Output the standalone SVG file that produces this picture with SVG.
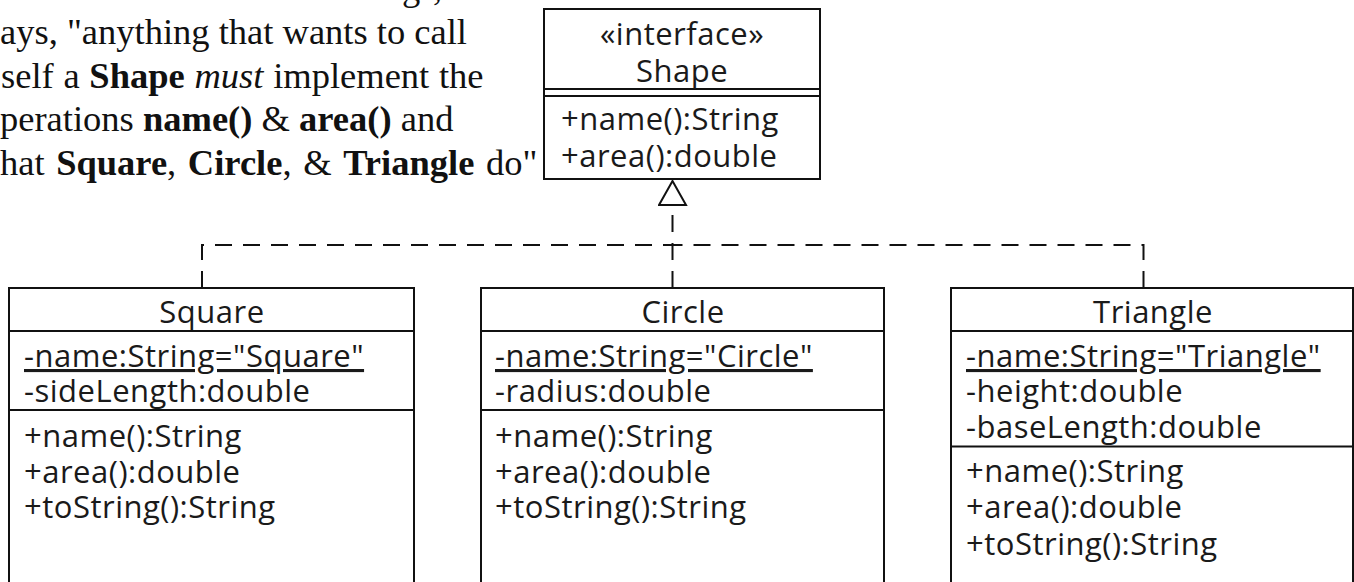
<svg xmlns="http://www.w3.org/2000/svg" width="1354" height="582" viewBox="0 0 1354 582">
<style>
  .box { fill: #ffffff; stroke: #111111; stroke-width: 2; }
  .div { stroke: #111111; stroke-width: 2; }
  .uml { font-family: "Open Sans", "DejaVu Sans", sans-serif; font-size: 31px; letter-spacing: 0.5px; fill: #1a1a1a; }
  .ctr { text-anchor: middle; }
  .ul { text-decoration: underline; }
  .note { font-family: "Liberation Serif", "Times New Roman", serif; font-size: 36.5px; fill: #111111; }
  .b { font-weight: bold; }
  .i { font-style: italic; }
  .dash { fill: none; stroke: #111111; stroke-width: 2; stroke-dasharray: 17 11; }
</style>
<defs>
  <marker id="realize" viewBox="0 0 28 30" refX="26" refY="15" markerWidth="28" markerHeight="30" orient="auto" markerUnits="userSpaceOnUse">
    <path d="M2,1.5 L26,15 L2,28.5 Z" fill="#ffffff" stroke="#111111" stroke-width="2"/>
  </marker>
</defs>
<rect width="1354" height="582" fill="#ffffff"/>

<g id="note">
  <text class="note" y="0"><tspan x="402">g</tspan><tspan x="433">,</tspan></text>
  <text class="note" x="0" y="44">ays, "anything that wants to call</text>
  <text class="note" x="1" y="88" word-spacing="0.6">self a <tspan class="b">Shape</tspan> <tspan class="i">must</tspan> implement the</text>
  <text class="note" x="0" y="131">perations <tspan class="b">name()</tspan> &amp; <tspan class="b">area()</tspan> and</text>
  <text class="note" x="0" y="175" word-spacing="2.5">hat <tspan class="b">Square</tspan>, <tspan class="b">Circle</tspan>, &amp; <tspan class="b">Triangle</tspan> do"</text>
</g>

<g id="connectors">
  <path class="dash" d="M202,288 V245 H672.5"/>
  <path class="dash" d="M1143.5,288 V245 H672.5"/>
  <path class="dash" d="M672.5,288 V181" marker-end="url(#realize)"/>
</g>

<g id="shape">
  <rect class="box" x="544" y="9" width="276" height="170"/>
  <line class="div" x1="544" y1="89" x2="820" y2="89"/>
  <line class="div" x1="544" y1="96" x2="820" y2="96"/>
  <text class="uml ctr" x="682" y="44.5">«interface»</text>
  <text class="uml ctr" x="682" y="82">Shape</text>
  <text class="uml" x="561" y="130">+name():String</text>
  <text class="uml" x="561" y="167">+area():double</text>
</g>

<g id="square">
  <rect class="box" x="9" y="288" width="405" height="320"/>
  <line class="div" x1="9" y1="331" x2="414" y2="331"/>
  <line class="div" x1="9" y1="410" x2="414" y2="410"/>
  <text class="uml ctr" x="212" y="323">Square</text>
  <text class="uml ul" x="24" y="367">-name:String="Square"</text>
  <text class="uml" x="24" y="402">-sideLength:double</text>
  <text class="uml" x="24" y="447">+name():String</text>
  <text class="uml" x="24" y="482.5">+area():double</text>
  <text class="uml" x="24" y="518">+toString():String</text>
</g>

<g id="circle">
  <rect class="box" x="481" y="288" width="403" height="320"/>
  <line class="div" x1="481" y1="331" x2="884" y2="331"/>
  <line class="div" x1="481" y1="410" x2="884" y2="410"/>
  <text class="uml ctr" x="683" y="323">Circle</text>
  <text class="uml ul" x="495" y="367">-name:String="Circle"</text>
  <text class="uml" x="495" y="402">-radius:double</text>
  <text class="uml" x="495" y="447">+name():String</text>
  <text class="uml" x="495" y="482.5">+area():double</text>
  <text class="uml" x="495" y="518">+toString():String</text>
</g>

<g id="triangle">
  <rect class="box" x="951" y="288" width="402" height="320"/>
  <line class="div" x1="951" y1="331" x2="1353" y2="331"/>
  <line class="div" x1="951" y1="446.5" x2="1353" y2="446.5"/>
  <text class="uml ctr" x="1153" y="323">Triangle</text>
  <text class="uml ul" x="966" y="367">-name:String="Triangle"</text>
  <text class="uml" x="966" y="402">-height:double</text>
  <text class="uml" x="966" y="438">-baseLength:double</text>
  <text class="uml" x="966" y="482">+name():String</text>
  <text class="uml" x="966" y="518">+area():double</text>
  <text class="uml" x="966" y="554.5">+toString():String</text>
</g>
</svg>
